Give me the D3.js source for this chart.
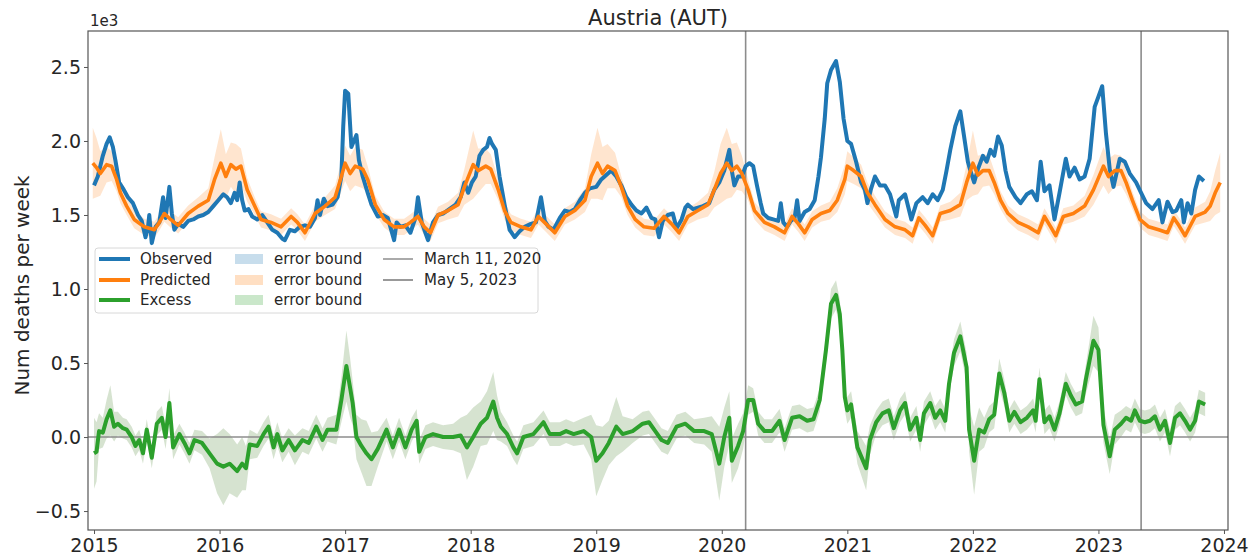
<!DOCTYPE html>
<html><head><meta charset="utf-8">
<script src="https://cdn.jsdelivr.net/npm/d3@7"></script>
<style>
body{margin:0;background:#fff}
svg{display:block}
text{font-family:"DejaVu Sans",sans-serif;fill:#262626}
</style>
</head><body>
<svg id="chart" width="1259" height="560"></svg>
<script>
// ---------------- data ----------------
const chartTitle = "Austria (AUT)";
const yAxisLabel = "Num deaths per week";
const yOffsetLabel = "1e3";
const xTickValues = [2015, 2016, 2017, 2018, 2019, 2020, 2021, 2022, 2023, 2024];
const yTickValues = [-500, 0, 500, 1000, 1500, 2000, 2500];
const markerDates = [2020.19, 2023.34];
const markerLabels = ["March 11, 2020", "May 5, 2023"];
const seriesNames = ["Observed", "Predicted", "Excess"];
const bandNames = ["error bound", "error bound", "error bound"];

// [decimal year, deaths per week]
const observed = [
[2015.00,1700],[2015.03,1760],[2015.07,1900],[2015.10,1980],[2015.125,2025],[2015.15,1960],[2015.17,1870],[2015.20,1720],
[2015.23,1680],[2015.27,1620],[2015.31,1580],[2015.35,1500],[2015.38,1460],[2015.41,1350],[2015.43,1420],[2015.44,1500],
[2015.46,1310],[2015.49,1420],[2015.52,1450],[2015.55,1620],[2015.57,1480],[2015.60,1690],[2015.62,1510],[2015.64,1400],
[2015.67,1440],[2015.71,1420],[2015.75,1460],[2015.79,1470],[2015.83,1490],[2015.87,1500],[2015.91,1520],[2015.95,1560],
[2015.99,1600],[2016.03,1640],[2016.06,1620],[2016.09,1580],[2016.12,1650],[2016.14,1600],[2016.16,1720],[2016.18,1600],
[2016.20,1530],[2016.23,1540],[2016.26,1490],[2016.30,1470],[2016.34,1500],[2016.38,1450],[2016.42,1400],[2016.46,1380],
[2016.50,1340],[2016.52,1330],[2016.56,1400],[2016.60,1390],[2016.64,1420],[2016.68,1430],[2016.72,1420],[2016.76,1480],
[2016.78,1600],[2016.80,1500],[2016.83,1610],[2016.86,1560],[2016.90,1570],[2016.94,1620],[2016.97,1760],[2016.985,2100],
[2017.00,2340],[2017.025,2320],[2017.05,1960],[2017.07,2000],[2017.09,2040],[2017.11,1870],[2017.14,1760],[2017.18,1650],
[2017.21,1570],[2017.26,1490],[2017.30,1500],[2017.34,1480],[2017.39,1330],[2017.41,1450],[2017.44,1420],[2017.48,1430],
[2017.52,1380],[2017.56,1480],[2017.58,1620],[2017.61,1450],[2017.66,1330],[2017.70,1450],[2017.74,1500],[2017.78,1510],
[2017.83,1540],[2017.88,1570],[2017.92,1620],[2017.95,1720],[2017.98,1650],[2018.01,1720],[2018.04,1760],[2018.07,1900],
[2018.10,1940],[2018.13,1960],[2018.15,2020],[2018.17,1980],[2018.20,1940],[2018.23,1760],[2018.27,1570],[2018.31,1400],
[2018.35,1350],[2018.39,1390],[2018.43,1420],[2018.48,1440],[2018.52,1450],[2018.56,1620],[2018.59,1460],[2018.62,1420],
[2018.66,1400],[2018.71,1480],[2018.75,1530],[2018.79,1520],[2018.83,1540],[2018.87,1600],[2018.91,1650],[2018.95,1680],
[2019.00,1690],[2019.04,1740],[2019.08,1770],[2019.12,1800],[2019.16,1760],[2019.20,1700],[2019.24,1620],[2019.28,1570],
[2019.32,1530],[2019.36,1510],[2019.40,1550],[2019.44,1480],[2019.47,1470],[2019.50,1350],[2019.53,1460],[2019.57,1500],
[2019.61,1510],[2019.64,1410],[2019.68,1470],[2019.71,1550],[2019.73,1570],[2019.77,1540],[2019.81,1550],[2019.85,1560],
[2019.90,1580],[2019.94,1670],[2019.98,1720],[2020.02,1800],[2020.06,1940],[2020.08,1800],[2020.10,1700],[2020.13,1760],
[2020.16,1760],[2020.19,1830],[2020.22,1850],[2020.25,1830],[2020.28,1700],[2020.31,1580],[2020.33,1510],[2020.37,1480],
[2020.41,1470],[2020.45,1460],[2020.47,1580],[2020.49,1450],[2020.52,1420],[2020.55,1460],[2020.58,1480],[2020.60,1600],
[2020.62,1460],[2020.66,1520],[2020.70,1540],[2020.74,1600],[2020.77,1760],[2020.79,1890],[2020.82,2150],[2020.84,2390],
[2020.87,2480],[2020.91,2540],[2020.94,2400],[2020.97,2150],[2021.00,2000],[2021.03,1980],[2021.07,1860],[2021.11,1720],
[2021.14,1670],[2021.16,1580],[2021.19,1680],[2021.22,1760],[2021.26,1700],[2021.30,1700],[2021.34,1640],[2021.39,1490],
[2021.41,1600],[2021.46,1640],[2021.51,1470],[2021.55,1580],[2021.60,1620],[2021.64,1580],[2021.68,1640],[2021.72,1600],
[2021.76,1670],[2021.79,1800],[2021.82,1940],[2021.86,2100],[2021.90,2200],[2021.93,2030],[2021.96,1860],[2021.98,1800],
[2022.01,1720],[2022.04,1810],[2022.08,1900],[2022.11,1860],[2022.14,1940],[2022.17,1900],[2022.20,2030],[2022.23,1970],
[2022.26,1800],[2022.29,1690],[2022.34,1620],[2022.38,1580],[2022.43,1640],[2022.47,1660],[2022.51,1600],[2022.54,1860],
[2022.57,1660],[2022.61,1700],[2022.65,1470],[2022.69,1650],[2022.74,1880],[2022.77,1760],[2022.81,1820],[2022.85,1740],
[2022.89,1760],[2022.93,1880],[2022.97,2230],[2023.00,2300],[2023.03,2370],[2023.06,2050],[2023.09,1810],[2023.12,1690],
[2023.17,1880],[2023.21,1860],[2023.25,1780],[2023.30,1720],[2023.34,1650],[2023.38,1580],[2023.43,1540],[2023.48,1600],
[2023.51,1450],[2023.55,1590],[2023.59,1520],[2023.62,1530],[2023.66,1600],[2023.68,1450],[2023.71,1580],[2023.74,1510],
[2023.77,1670],[2023.80,1760],[2023.84,1730]
];

// [decimal year, predicted deaths, error half-width]
const predicted = [
[2014.99,1850,240],[2015.02,1820,200],[2015.05,1780,150],[2015.10,1840,120],[2015.14,1830,100],[2015.18,1740,80],
[2015.21,1650,70],[2015.26,1560,60],[2015.32,1470,60],[2015.40,1420,55],[2015.48,1400,55],[2015.52,1450,55],
[2015.56,1510,55],[2015.61,1470,55],[2015.67,1430,55],[2015.75,1510,55],[2015.83,1560,60],[2015.91,1600,80],
[2015.96,1740,150],[2016.01,1850,230],[2016.05,1760,150],[2016.09,1840,150],[2016.13,1810,170],[2016.17,1830,120],
[2016.22,1670,80],[2016.28,1560,60],[2016.33,1470,55],[2016.41,1450,55],[2016.49,1420,55],[2016.57,1490,55],
[2016.62,1450,55],[2016.68,1380,55],[2016.76,1510,55],[2016.84,1560,60],[2016.92,1620,80],[2016.97,1760,100],
[2017.00,1850,120],[2017.04,1780,120],[2017.08,1830,130],[2017.14,1810,130],[2017.18,1740,90],[2017.24,1570,60],
[2017.31,1470,55],[2017.39,1420,55],[2017.47,1420,55],[2017.52,1450,55],[2017.58,1490,55],[2017.63,1420,55],
[2017.68,1380,55],[2017.74,1500,55],[2017.82,1530,60],[2017.90,1570,80],[2017.95,1690,120],[2018.02,1840,230],
[2018.06,1800,150],[2018.12,1830,120],[2018.16,1810,100],[2018.22,1670,70],[2018.27,1530,60],[2018.32,1450,55],
[2018.40,1420,55],[2018.48,1400,55],[2018.54,1490,55],[2018.60,1440,55],[2018.67,1380,55],[2018.75,1490,55],
[2018.83,1530,60],[2018.91,1600,80],[2018.96,1760,150],[2019.01,1850,240],[2019.05,1780,180],[2019.09,1830,150],
[2019.15,1800,120],[2019.20,1690,70],[2019.25,1560,60],[2019.31,1470,55],[2019.38,1420,55],[2019.46,1410,55],
[2019.54,1490,55],[2019.60,1440,55],[2019.66,1380,55],[2019.73,1490,55],[2019.81,1530,60],[2019.89,1570,80],
[2019.94,1670,120],[2019.99,1780,200],[2020.04,1850,240],[2020.08,1800,180],[2020.12,1830,160],[2020.16,1780,120],
[2020.21,1670,70],[2020.26,1530,60],[2020.34,1450,55],[2020.42,1420,55],[2020.50,1380,55],[2020.56,1490,55],
[2020.61,1440,55],[2020.66,1380,55],[2020.72,1470,55],[2020.79,1510,55],[2020.86,1530,60],[2020.92,1600,80],
[2020.98,1740,100],[2021.00,1830,100],[2021.05,1800,90],[2021.11,1760,80],[2021.16,1650,70],[2021.22,1570,60],
[2021.30,1470,55],[2021.38,1420,55],[2021.46,1400,55],[2021.52,1360,55],[2021.57,1480,55],[2021.62,1430,55],
[2021.68,1360,55],[2021.74,1510,55],[2021.82,1530,60],[2021.90,1570,80],[2021.95,1720,120],[2022.00,1850,220],
[2022.04,1770,130],[2022.08,1800,110],[2022.13,1800,100],[2022.17,1720,80],[2022.22,1600,60],[2022.28,1510,55],
[2022.36,1450,55],[2022.44,1420,55],[2022.52,1380,55],[2022.57,1490,55],[2022.62,1420,55],[2022.66,1360,55],
[2022.72,1490,55],[2022.80,1510,55],[2022.89,1560,70],[2022.96,1670,100],[2023.04,1830,130],[2023.08,1760,120],
[2023.13,1800,110],[2023.18,1800,100],[2023.22,1720,80],[2023.27,1600,60],[2023.33,1470,55],[2023.40,1420,55],
[2023.48,1400,55],[2023.55,1380,55],[2023.60,1480,55],[2023.64,1430,55],[2023.69,1360,55],[2023.77,1490,60],
[2023.85,1520,70],[2023.89,1560,100],[2023.93,1650,150],[2023.97,1720,200]
];

// [decimal year, excess deaths, error half-width]
const excess = [
[2015.00,-110,240],[2015.02,-100,200],[2015.04,40,120],[2015.07,30,100],[2015.10,120,130],[2015.13,180,170],
[2015.16,70,100],[2015.19,90,80],[2015.23,60,70],[2015.26,50,70],[2015.30,0,70],[2015.33,-60,70],
[2015.36,-20,70],[2015.39,-110,70],[2015.42,50,70],[2015.46,-140,70],[2015.50,90,80],[2015.54,130,80],
[2015.57,0,80],[2015.60,230,100],[2015.63,-70,80],[2015.68,20,70],[2015.72,-40,70],[2015.76,-110,70],
[2015.80,-20,70],[2015.86,-40,80],[2015.92,-110,100],[2015.98,-180,200],[2016.03,-200,260],[2016.08,-180,200],
[2016.14,-230,180],[2016.18,-180,180],[2016.21,-210,150],[2016.24,-50,100],[2016.30,-60,80],[2016.35,20,80],
[2016.39,70,80],[2016.43,-70,80],[2016.46,20,80],[2016.50,-90,80],[2016.55,-20,80],[2016.60,-90,100],
[2016.66,-20,80],[2016.71,-40,80],[2016.77,70,80],[2016.82,-20,80],[2016.86,50,80],[2016.93,50,100],
[2016.97,250,150],[2017.01,480,240],[2017.04,330,200],[2017.06,230,150],[2017.09,0,150],[2017.13,-60,180],
[2017.17,-110,220],[2017.21,-150,180],[2017.26,-80,120],[2017.33,50,80],[2017.38,-70,80],[2017.43,50,80],
[2017.48,-70,80],[2017.53,50,80],[2017.57,110,80],[2017.59,-100,80],[2017.64,0,80],[2017.70,20,80],
[2017.78,0,80],[2017.86,0,90],[2017.92,10,120],[2017.97,-70,220],[2018.02,0,200],[2018.08,90,150],
[2018.13,130,180],[2018.18,240,200],[2018.21,130,150],[2018.24,70,100],[2018.29,20,80],[2018.34,-70,80],
[2018.37,-110,80],[2018.42,0,80],[2018.50,20,80],[2018.58,100,80],[2018.63,20,80],[2018.71,20,80],
[2018.76,40,80],[2018.82,20,80],[2018.90,40,90],[2018.96,0,150],[2019.00,-160,240],[2019.05,-110,180],
[2019.10,-40,150],[2019.16,70,200],[2019.21,20,120],[2019.29,40,80],[2019.37,90,80],[2019.42,100,80],
[2019.47,40,80],[2019.52,-20,80],[2019.57,-40,80],[2019.64,70,80],[2019.71,90,80],[2019.78,40,80],
[2019.86,40,90],[2019.92,20,120],[2019.98,-180,250],[2020.02,0,200],[2020.06,130,180],[2020.08,-160,150],
[2020.13,-60,150],[2020.17,40,120],[2020.21,250,100],[2020.25,250,80],[2020.29,90,80],[2020.34,40,80],
[2020.40,40,80],[2020.46,110,80],[2020.50,-20,80],[2020.56,130,80],[2020.62,140,80],[2020.68,110,80],
[2020.73,120,80],[2020.78,250,80],[2020.83,590,90],[2020.87,900,100],[2020.91,960,100],[2020.94,830,100],
[2020.96,590,90],[2020.98,270,90],[2021.00,180,90],[2021.03,220,90],[2021.08,-70,110],[2021.15,-210,150],
[2021.18,-20,100],[2021.23,100,80],[2021.28,160,80],[2021.33,180,80],[2021.37,60,80],[2021.42,180,80],
[2021.46,230,80],[2021.50,50,80],[2021.55,130,80],[2021.58,-20,80],[2021.61,160,80],[2021.66,230,80],
[2021.70,130,80],[2021.74,180,80],[2021.78,110,80],[2021.81,360,80],[2021.85,570,90],[2021.90,680,100],
[2021.95,470,100],[2021.97,50,150],[2022.01,-160,230],[2022.05,50,150],[2022.09,30,100],[2022.13,120,90],
[2022.17,150,90],[2022.21,430,100],[2022.25,300,90],[2022.29,110,80],[2022.33,170,80],[2022.38,100,80],
[2022.43,130,80],[2022.48,180,80],[2022.50,110,80],[2022.53,390,80],[2022.57,100,80],[2022.61,140,80],
[2022.65,50,80],[2022.69,160,80],[2022.74,360,80],[2022.78,280,80],[2022.82,220,80],[2022.87,240,80],
[2022.90,390,100],[2022.96,650,170],[2023.00,590,150],[2023.04,80,120],[2023.09,-130,120],[2023.13,50,100],
[2023.18,90,90],[2023.22,130,80],[2023.26,110,80],[2023.29,180,80],[2023.33,110,80],[2023.37,100,80],
[2023.41,110,80],[2023.45,140,80],[2023.49,50,80],[2023.53,110,80],[2023.57,-40,90],[2023.61,130,80],
[2023.65,160,80],[2023.69,110,80],[2023.73,50,80],[2023.77,110,80],[2023.80,240,80],[2023.85,220,80]
];

// ---------------- drawing ----------------
const colors = {obs:"#1f77b4", pred:"#ff7f0e", exc:"#2ca02c"};
const L = 88, T = 31, R = 1228, B = 530;
const svg = d3.select("#chart");

const x = d3.scaleLinear().domain([2014.952, 2024.032]).range([L, R]);
const y = d3.scaleLinear().domain([-628, 2743]).range([B, T]);

svg.append("defs").append("clipPath").attr("id", "clip")
  .append("rect").attr("x", L).attr("y", T).attr("width", R - L).attr("height", B - T);

const plot = svg.append("g").attr("clip-path", "url(#clip)");

const band = d3.area().x(d => x(d[0])).y0(d => y(d[1] - d[2])).y1(d => y(d[1] + d[2]));
const line = d3.line().x(d => x(d[0])).y(d => y(d[1]));

plot.append("path").datum(excess).attr("d", band)
  .attr("fill", "#b5ccaa").attr("fill-opacity", 0.55);
plot.append("path").datum(predicted).attr("d", band)
  .attr("fill", colors.pred).attr("fill-opacity", 0.2);

// zero line and reference dates
plot.append("line").attr("x1", L).attr("x2", R).attr("y1", y(0)).attr("y2", y(0))
  .attr("stroke", "#8c8c8c").attr("stroke-width", 1.6);
plot.selectAll(".vref").data(markerDates).join("line")
  .attr("x1", d => x(d)).attr("x2", d => x(d)).attr("y1", T).attr("y2", B)
  .attr("stroke", "#8c8c8c").attr("stroke-width", 1.6);

plot.append("path").datum(observed).attr("d", line).attr("fill", "none")
  .attr("stroke", colors.obs).attr("stroke-width", 4).attr("stroke-linejoin", "round");
plot.append("path").datum(predicted).attr("d", line).attr("fill", "none")
  .attr("stroke", colors.pred).attr("stroke-width", 3.6).attr("stroke-linejoin", "round");
plot.append("path").datum(excess).attr("d", line).attr("fill", "none")
  .attr("stroke", colors.exc).attr("stroke-width", 4).attr("stroke-linejoin", "round");

// axes
const yAxis = d3.axisLeft(y).tickValues(yTickValues)
  .tickFormat(d => d3.format(".1f")(d / 1000)).tickSize(4).tickPadding(3);
const xAxis = d3.axisBottom(x).tickValues(xTickValues)
  .tickFormat(d3.format("d")).tickSize(4).tickPadding(5);

const gy = svg.append("g").attr("transform", `translate(${L},0)`).call(yAxis);
const gx = svg.append("g").attr("transform", `translate(0,${B})`).call(xAxis);
[gx, gy].forEach(g => {
  g.select(".domain").remove();
  g.selectAll(".tick line").attr("stroke", "#555");
  g.selectAll(".tick text").attr("font-size", 19).attr("fill", "#262626")
    .attr("font-family", "DejaVu Sans, sans-serif");
});

// frame
svg.append("rect").attr("x", L).attr("y", T).attr("width", R - L).attr("height", B - T)
  .attr("fill", "none").attr("stroke", "#555").attr("stroke-width", 1.2);

// titles
svg.append("text").attr("x", (L + R) / 2).attr("y", 25).attr("text-anchor", "middle")
  .attr("font-size", 21).text(chartTitle);
svg.append("text").attr("x", L + 2).attr("y", 26).attr("font-size", 15).text(yOffsetLabel);
svg.append("text").attr("transform", `translate(29,${(T + B) / 2 + 5}) rotate(-90)`)
  .attr("text-anchor", "middle").attr("font-size", 20).text(yAxisLabel);

// legend
const lg = svg.append("g");
lg.append("rect").attr("x", 95).attr("y", 248).attr("width", 443).attr("height", 65).attr("rx", 3)
  .attr("fill", "#fff").attr("fill-opacity", 0.85).attr("stroke", "#d8d8d8");
const rowY = [259, 280, 300];
const lineCols = [colors.obs, colors.pred, colors.exc];
seriesNames.forEach((n, i) => {
  lg.append("line").attr("x1", 99).attr("x2", 130).attr("y1", rowY[i]).attr("y2", rowY[i])
    .attr("stroke", lineCols[i]).attr("stroke-width", 4);
  lg.append("text").attr("x", 140).attr("y", rowY[i] + 5).attr("font-size", 15).text(n);
});
bandNames.forEach((n, i) => {
  lg.append("rect").attr("x", 235).attr("y", rowY[i] - 5).attr("width", 28).attr("height", 10)
    .attr("fill", lineCols[i]).attr("fill-opacity", 0.25);
  lg.append("text").attr("x", 274).attr("y", rowY[i] + 5).attr("font-size", 15).text(n);
});
markerLabels.forEach((n, i) => {
  lg.append("line").attr("x1", 383).attr("x2", 413).attr("y1", rowY[i]).attr("y2", rowY[i])
    .attr("stroke", i === 0 ? "#aaa" : "#999").attr("stroke-width", 2);
  lg.append("text").attr("x", 424).attr("y", rowY[i] + 5).attr("font-size", 15).text(n);
});
</script>
</body></html>
